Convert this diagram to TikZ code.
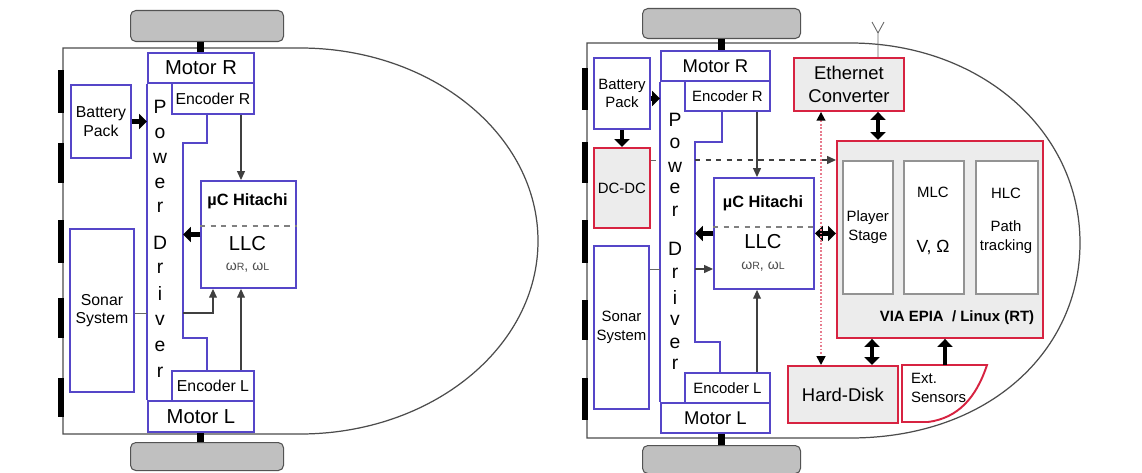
\documentclass[tikz,border=0pt]{standalone}
\usepackage{fontspec}
\setmainfont{Liberation Sans}
\usetikzlibrary{arrows.meta,calc,positioning}

\definecolor{boxblue}{RGB}{85,70,200}
\definecolor{boxred}{RGB}{215,35,65}
\definecolor{fillgray}{RGB}{236,236,236}
\definecolor{wheelgray}{RGB}{192,192,192}

\begin{document}
\begin{tikzpicture}[x=0.02cm,y=-0.02cm,
  wh/.style 2 args={minimum width=#1*0.02cm,minimum height=#2*0.02cm,inner sep=0pt,anchor=north west},
  bbox/.style={draw=boxblue,line width=1.1pt,fill=white,align=center},
  rbox/.style={draw=boxred,line width=1.1pt,fill=fillgray,align=center},
  gbox/.style={draw=gray!85,line width=0.9pt,fill=white,align=center},
  wheel/.style={draw=gray!65!black,fill=wheelgray,rounded corners=3pt,line width=0.6pt},
  body/.style={draw=black!70,line width=0.7pt},
  bline/.style={draw=boxblue,line width=1.1pt},
  axle/.style={line width=4pt},
  thinl/.style={draw=black!60,line width=0.5pt},
  arr/.style={draw=black!75,line width=0.6pt,-{Triangle[length=5pt,width=4.5pt]}},
  fat/.style={line width=2.5pt,-{Triangle[length=4.5pt,width=8.5pt]}},
  fatboth/.style={line width=2.5pt,{Triangle[length=4.5pt,width=8.5pt]}-{Triangle[length=4.5pt,width=8.5pt]}},
  fbig/.style={font=\fontsize{11.5}{14}\selectfont},
  fmid/.style={font=\fontsize{10.5}{13.5}\selectfont},
  fsmall/.style={font=\fontsize{9}{10.5}\selectfont},
  ftiny/.style={font=\fontsize{8.5}{10.5}\selectfont},
  fbold/.style={font=\bfseries\fontsize{9.3}{11}\selectfont},
  pdtxt/.style={font=\fontsize{11}{12}\selectfont,inner sep=0pt}
]
\useasboundingbox (0,0) rectangle (1142,473);

% ---------------- left robot ----------------
\draw[body] (63,48) -- (300,48) arc[start angle=-90,end angle=90,x radius=238,y radius=193] -- (63,434) -- cycle;
\foreach \a/\b in {70/113,143/183,220/263,298/338,378/417}
  \fill (58,\a) rectangle (64,\b);

\node[wheel,wh={153}{31}] (whTL) at (130,10) {};
\node[wheel,wh={153}{28}] (whBL) at (130,442) {};

\node[bbox,wh={106}{30},fbig] (motRL) at (147,52) {Motor R};
\node[bbox,wh={82}{31},fsmall] (encRL) at (171,82) {Encoder R};
\node[bbox,wh={82}{30},fsmall] (encLL) at (171,370) {Encoder L};
\node[bbox,wh={106}{31},fbig] (motLL) at (147,400) {Motor L};
\node[bbox,wh={60}{73},fsmall] (batL) at (70,84) {Battery\\Pack};
\node[bbox,wh={64}{163},fsmall] (sonL) at (69,228) {Sonar\\System};
\node[bbox,wh={95}{107}] (llcL) at (200,180) {};

\draw[axle] (whTL.south -| motRL.north) -- (motRL.north);
\draw[axle] (motLL.south) -- (motLL.south |- whBL.north);

% power driver
\draw[bline] (motRL.south west) -- (motLL.north west);
\draw[bline] (207,113) -- (207,143) -- (183,143) -- (183,338) -- (207,338) -- (207,370);
\foreach \l/\y in {P/107,o/133,w/158,e/183,r/207,D/243,r/268,i/293,v/320,e/346,r/372}
  \node[pdtxt] (pdL-\y) at (160,\y) {\l};

% LLC text
\node[fbold] (hitL) at (247.5,201) {µC Hitachi};
\draw[dashed,gray,line width=0.6pt] ($(llcL.north west)+(0,46)$) -- ($(llcL.north east)+(0,46)$);
\node[fbig] (llcTL) at (247.5,244) {LLC};
\node[font=\fontsize{8}{9}\selectfont,text=black!70] (omL) at (247.5,268) {ω{\fontsize{6}{7}\selectfont R}, ω{\fontsize{6}{7}\selectfont L}};

\coordinate (pdinL) at (183,0);
\coordinate (cEncL) at (241,0);
\coordinate (cSonL) at (0,313);
\coordinate (cUpL) at (213,0);
\draw[fat] (batL.east) -- (batL.east -| motRL.west);
\draw[fat] (llcL.west) -- (llcL.west -| pdinL);
\draw[arr] (encRL.south -| cEncL) -- (llcL.north -| cEncL);
\draw[arr] (encLL.north -| cEncL) -- (llcL.south -| cEncL);
\draw[thinl] (sonL.east |- cSonL) -- (motLL.west |- cSonL);
\draw[arr] (pdinL |- cSonL) -- (cUpL |- cSonL) -- (cUpL |- llcL.south);

% ---------------- right robot ----------------
\draw[body] (587,43) -- (850,43) .. controls (980,43) and (1080,130) .. (1080,243) .. controls (1080,350) and (990,438) .. (850,438) -- (587,438) -- cycle;
\foreach \a/\b in {68/110,142/183,220/263,300/340,378/420}
  \fill (582,\a) rectangle (588,\b);

\node[wheel,wh={158}{30}] (whTR) at (642,8) {};
\node[wheel,wh={158}{28}] (whBR) at (642,445) {};

\node[bbox,wh={109}{30},fmid] (motRR) at (660,50) {Motor R};
\node[bbox,wh={85}{30},ftiny] (encRR) at (684,80) {Encoder R};
\node[bbox,wh={85}{30},ftiny] (encLR) at (684,372) {Encoder L};
\node[bbox,wh={109}{30},fmid] (motLR) at (660,402) {Motor L};
\node[bbox,wh={56}{71},ftiny] (batR) at (593,57) {Battery\\Pack};
\node[rbox,wh={56}{80},ftiny] (dcdc) at (593,147) {DC-DC};
\node[bbox,wh={55}{163},ftiny] (sonR) at (593,245) {Sonar\\System};
\node[bbox,wh={100}{111}] (llcR) at (713,177) {};

\draw[axle] (whTR.south) -- (whTR.south |- motRR.north);
\draw[axle] (motLR.south -| whBR.north) -- (whBR.north);

% power driver
\draw[bline] (motRR.south west) -- (motLR.north west);
\draw[bline] (722,110) -- (722,142) -- (695,142) -- (695,342) -- (720,342) -- (720,372);
\foreach \l/\y in {P/120,o/143,w/167,e/188,r/211,D/249,r/273,i/297,v/320,e/343,r/364}
  \node[pdtxt] (pdR-\y) at (675,\y) {\l};

% LLC text
\node[fbold] (hitR) at (763,203) {µC Hitachi};
\draw[dashed,gray,line width=0.6pt] ($(llcR.north west)+(0,50)$) -- ($(llcR.north east)+(0,50)$);
\node[fbig] (llcTR) at (763,242) {LLC};
\node[font=\fontsize{8}{9}\selectfont,text=black!70] (omR) at (763,267) {ω{\fontsize{6}{7}\selectfont R}, ω{\fontsize{6}{7}\selectfont L}};

% PC side
\draw[thinl] (878,57) -- (878,33) -- (872,22) (878,33) -- (884,22);
\node[rbox,wh={110}{53},fmid] (eth) at (793,57) {Ethernet\\Converter};
\node[rbox,wh={206}{197}] (via) at (836,140) {};
\node[gbox,wh={50}{133},ftiny] (plst) at (842,160) {Player\\Stage};
\node[gbox,wh={60}{133}] (mlc) at (903,160) {};
\node[gbox,wh={62}{133}] (hlc) at (975,160) {};
\node[ftiny] (mlcT) at (933,192) {MLC};
\node[font=\fontsize{10}{12}\selectfont] (vom) at (933,247) {V, Ω};
\node[ftiny] (hlcT) at (1006,193) {HLC};
\node[ftiny,align=center] (path) at (1006,237) {Path\\tracking};
\node[font=\bfseries\fontsize{8.5}{10}\selectfont] (viaT) at (957,318) {VIA EPIA \ / Linux (RT)};
\node[rbox,wh={110}{57},fmid] (hdd) at (787,365) {Hard-Disk};
\draw[draw=boxred,line width=1.1pt,fill=white] (902,365) -- (987,365) .. controls (976,398) and (958,418) .. (928,422) -- (902,422) -- cycle;
\node[ftiny,align=left,anchor=west] (extS) at (905,388) {Ext.\\Sensors};

\coordinate (pdinR) at (695,0);
\coordinate (cEncR) at (757,0);
\coordinate (cSonR) at (0,269);
\coordinate (cDc) at (0,160);
\coordinate (cDot) at (821,0);
\coordinate (cEth) at (878,0);
\coordinate (cHdd) at (872,0);
\coordinate (extTop) at (945,365);

\draw[fat] ($(batR.east)+(0,5)$) -- ($(batR.east -| motRR.west)+(0,5)$);
\draw[fat] (batR.south) -- (dcdc.north);
\draw[fat] (llcR.west) -- (llcR.west -| pdinR);
\draw[fatboth] (llcR.east) -- (llcR.east -| via.west);
\draw[fatboth] (eth.south -| cEth) -- (via.north -| cEth);
\draw[fatboth] (via.south -| cHdd) -- (hdd.north -| cHdd);
\draw[fat] (extTop) -- (extTop |- via.south);
\draw[arr] (encRR.south -| cEncR) -- (llcR.north -| cEncR);
\draw[arr] (encLR.north -| cEncR) -- (llcR.south -| cEncR);
\draw[thinl] (sonR.east |- cSonR) -- (motLR.west |- cSonR);
\draw[arr] (pdinR |- cSonR) -- (llcR.west |- cSonR);
\draw[thinl,dashed] (dcdc.east |- cDc) -- (motRR.west |- cDc);
\draw[arr,dashed] (pdinR |- cDc) -- (via.west |- cDc);
\draw[draw=boxred!60,densely dotted,line width=1pt,{Triangle[length=5pt,width=5pt,color=black]}-{Triangle[length=5pt,width=5pt,color=black]}] (eth.south -| cDot) -- (hdd.north -| cDot);
\end{tikzpicture}
\end{document}
